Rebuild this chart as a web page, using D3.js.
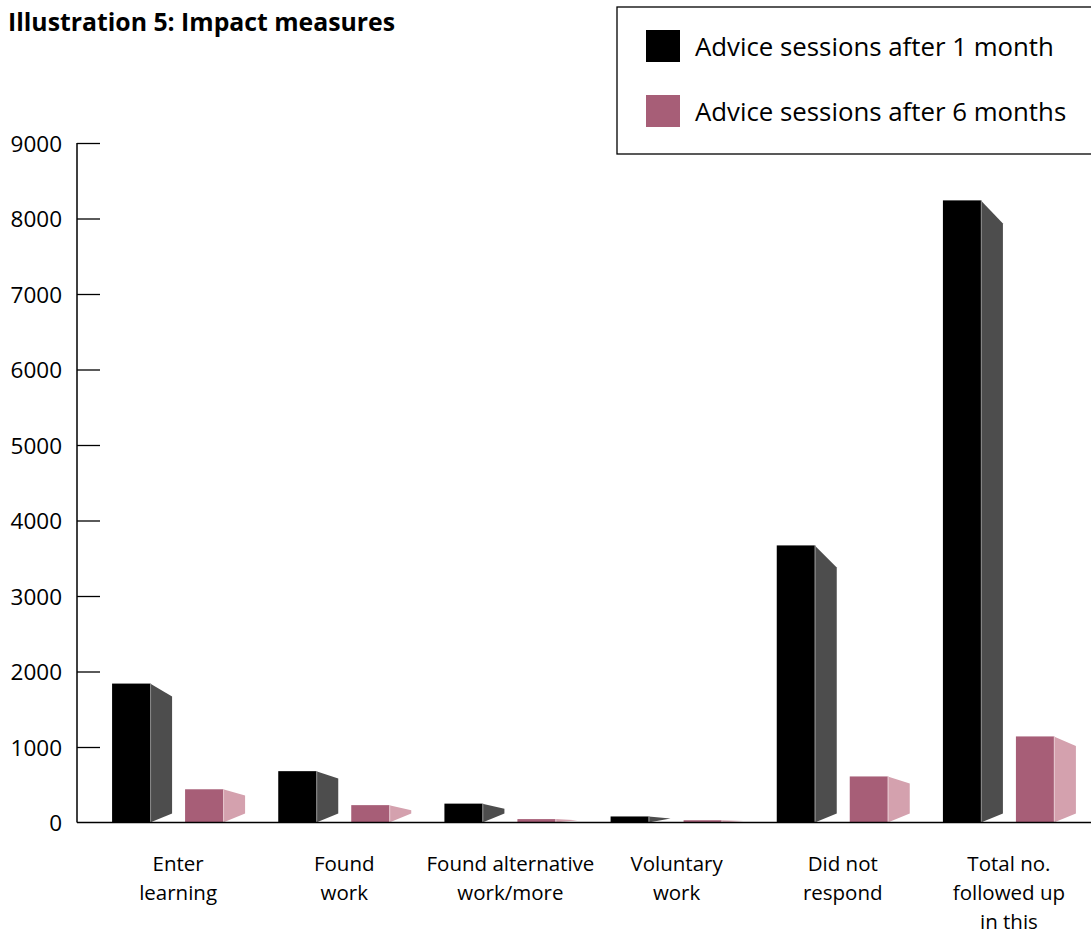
<!DOCTYPE html>
<html>
<head>
<meta charset="utf-8">
<script src="https://cdn.jsdelivr.net/npm/d3@7"></script>
<style>
  body { margin: 0; background: #fff; }
  #chart { display: block; }
  text { font-family: "Open Sans", "Noto Sans", sans-serif; fill: #000; }
</style>
</head>
<body>
<svg id="chart" width="1091" height="934"></svg>
<script>
// --- Data ---
const categories = [
    ["Enter", "learning"],
    ["Found", "work"],
    ["Found alternative", "work/more"],
    ["Voluntary", "work"],
    ["Did not", "respond"],
    ["Total no.", "followed up", "in this"]
];
const seriesNames = ["Advice sessions after 1 month", "Advice sessions after 6 months"];
const after1Month = [1840, 680, 250, 80, 3670, 8240];
const after6Months = [440, 230, 45, 30, 610, 1140];
const yTicks = [0, 1000, 2000, 3000, 4000, 5000, 6000, 7000, 8000, 9000];

document.addEventListener('DOMContentLoaded', () => {
    const svg = d3.select("#chart");
    const width = 1091;

    const frontColors = ["#000000", "#a75e77"];
    const sideColors = ["#4d4d4d", "#d4a1ae"];
    const seriesValues = [after1Month, after6Months];

    // --- 1. Scales ---
    const y = d3.scaleLinear().domain([0, 9000]).range([822.5, 143]);
    const x = d3.scaleBand().domain(d3.range(categories.length)).range([95, 1092]);
    const xSub = d3.scaleBand().domain([0, 1]).range([0, 111]).paddingInner(35 / 73);
    const sideWidth = 22;

    // --- 2. Title ---
    svg.append("text")
        .attr("x", 8).attr("y", 31)
        .style("font-size", "24.8px").style("font-weight", "bold")
        .text("Illustration 5: Impact measures");

    // --- 3. Y axis (ticks point inward) ---
    const axisX = 77;
    const yAxis = d3.axisRight(y).tickValues(yTicks).tickSize(23).tickFormat(d3.format("d"));
    const gy = svg.append("g").attr("transform", `translate(${axisX},0)`).call(yAxis);
    gy.select(".domain").remove();
    gy.selectAll(".tick line").attr("stroke", "#000").attr("stroke-width", 1.3)
        .attr("display", d => d === 0 ? "none" : null);
    gy.selectAll(".tick text")
        .attr("x", -15).attr("dy", "0.36em")
        .attr("text-anchor", "end")
        .style("font-size", "22.5px").style("font-family", "'Open Sans', sans-serif");

    svg.append("line")
        .attr("x1", axisX).attr("x2", axisX)
        .attr("y1", y(9000)).attr("y2", y(0))
        .attr("stroke", "#000").attr("stroke-width", 1.5);

    // --- 4. Bars with a perspective side face ---
    categories.forEach((cat, i) => {
        const gx = x(i) + x.bandwidth() / 2 - 66;
        seriesValues.forEach((vals, s) => {
            const v = vals[i];
            const x0 = gx + xSub(s);
            const x1 = x0 + xSub.bandwidth();
            const top = y(v);
            const base = y(0);
            const h = base - top;
            let drop = Math.min(23, 4 + 0.065 * h);
            let rise = 9;
            if (drop + rise > h) { const k = h / (drop + rise); drop *= k; rise *= k; }
            svg.append("polygon")
                .attr("points", [[x1, top], [x1 + sideWidth, top + drop], [x1 + sideWidth, base - rise], [x1, base]].map(p => p.join(",")).join(" "))
                .attr("fill", sideColors[s]);
            svg.append("rect")
                .attr("x", x0).attr("y", top)
                .attr("width", xSub.bandwidth()).attr("height", h)
                .attr("fill", frontColors[s]);
            svg.append("line")
                .attr("x1", x1 + 0.5).attr("x2", x1 + 0.5).attr("y1", top).attr("y2", base)
                .attr("stroke", s === 0 ? "#8a8a8a" : "#e6c6ce").attr("stroke-width", 1);
        });
    });

    // baseline
    svg.append("line")
        .attr("x1", axisX).attr("x2", width)
        .attr("y1", y(0)).attr("y2", y(0))
        .attr("stroke", "#000").attr("stroke-width", 1.5);

    // --- 5. Category labels ---
    categories.forEach((lines, i) => {
        const t = svg.append("text")
            .attr("text-anchor", "middle")
            .style("font-size", "20.5px");
        lines.forEach((ln, j) => {
            t.append("tspan")
                .attr("x", x(i) + x.bandwidth() / 2)
                .attr("y", 871 + j * 29)
                .text(ln);
        });
    });

    // --- 6. Legend ---
    svg.append("rect")
        .attr("x", 617).attr("y", 7)
        .attr("width", 500).attr("height", 147)
        .attr("fill", "none").attr("stroke", "#000").attr("stroke-width", 1.3);
    seriesNames.forEach((name, s) => {
        svg.append("rect")
            .attr("x", 646).attr("y", 30 + s * 65)
            .attr("width", 34).attr("height", 32)
            .attr("fill", frontColors[s]);
        svg.append("text")
            .attr("x", 695).attr("y", 56 + s * 65)
            .style("font-size", "25.8px")
            .text(name);
    });
});
</script>
</body>
</html>
